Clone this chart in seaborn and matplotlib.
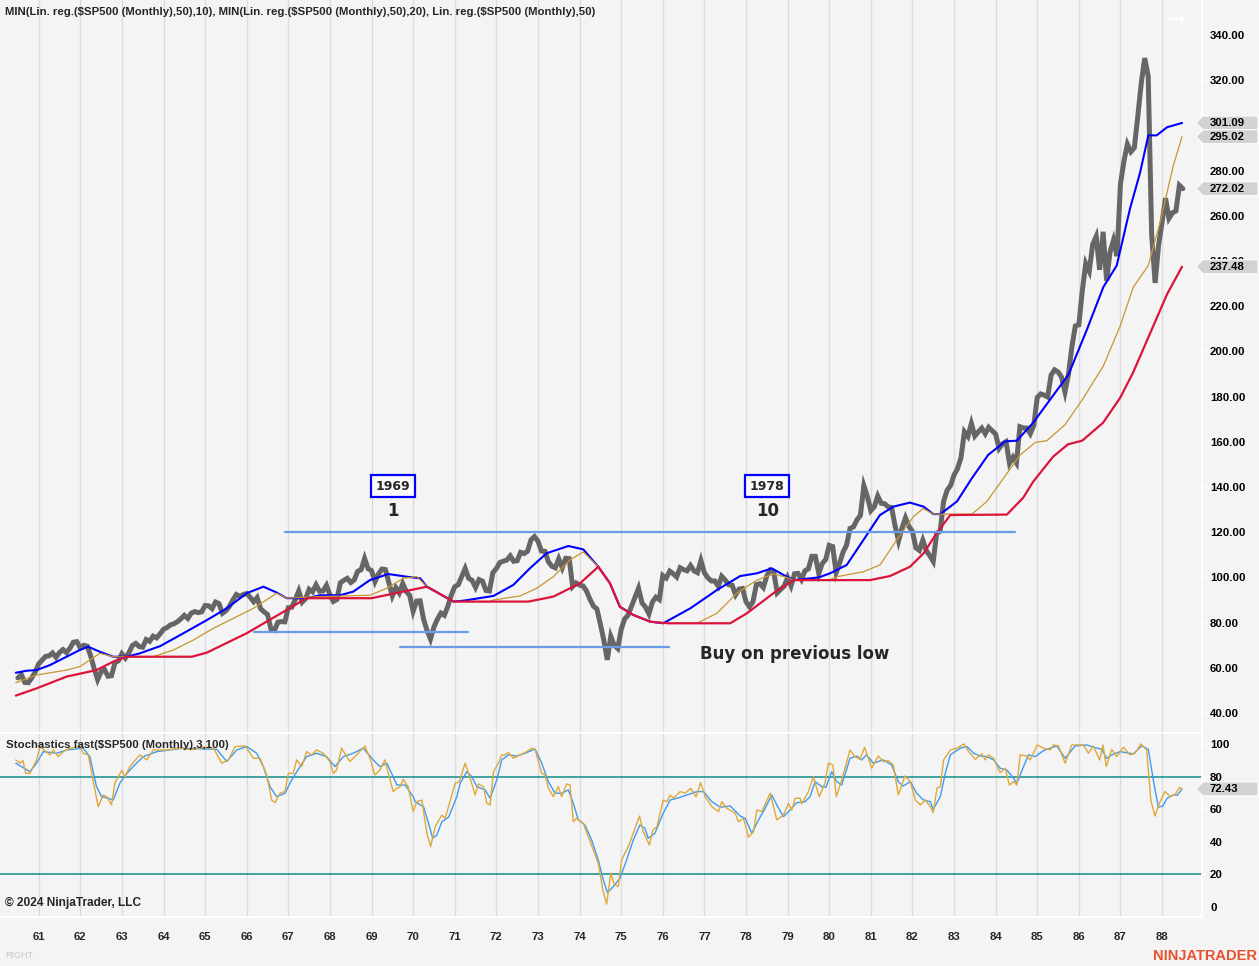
import numpy as np
import pandas as pd
import seaborn as sns
import matplotlib.pyplot as plt
from matplotlib.patches import Polygon
from matplotlib.transforms import blended_transform_factory

sns.set_theme(style="white")
plt.rcParams['font.family'] = ['Liberation Sans', 'DejaVu Sans']

BG = '#f4f4f4'

# ---------------- data ----------------
# S&P 500 monthly closes, Jul 1960 .. Jul 1988
sp500_close = [
    55.51, 56.96, 53.52, 53.39, 55.54, 58.11,
    61.78, 63.44, 65.06, 65.31, 66.56, 64.64, 66.76, 68.07, 66.73, 68.62, 71.32, 71.55,
    68.84, 69.96, 69.55, 65.24, 59.63, 54.75, 58.23, 59.12, 56.27, 56.52, 62.26, 63.10,
    66.20, 64.29, 66.57, 69.80, 70.80, 69.37, 69.13, 72.50, 71.70, 74.01, 73.23, 75.02,
    77.04, 77.80, 78.98, 79.46, 80.37, 81.69, 83.18, 81.83, 84.18, 84.86, 84.42, 84.75,
    87.56, 87.43, 86.16, 89.11, 88.42, 84.12, 85.25, 87.17, 89.96, 92.42, 91.61, 92.43,
    92.88, 91.22, 89.23, 91.06, 86.13, 84.74, 83.60, 77.10, 76.56, 80.20, 80.45, 80.33,
    86.61, 86.78, 90.20, 94.01, 89.08, 90.64, 94.75, 93.64, 96.71, 93.90, 94.00, 96.47,
    92.24, 89.36, 90.20, 97.59, 98.68, 99.58, 97.74, 98.86, 102.67, 103.41, 108.37, 103.86,
    103.01, 98.13, 101.51, 103.69, 103.46, 97.71, 91.83, 95.51, 93.12, 97.24, 93.81, 92.06,
    85.02, 89.50, 89.63, 81.52, 76.55, 72.72, 78.05, 81.52, 84.21, 83.25, 87.20, 92.15,
    95.88, 96.75, 100.31, 103.95, 99.63, 98.70, 95.58, 99.03, 98.34, 94.23, 93.99, 102.09,
    103.94, 106.57, 107.20, 107.67, 109.53, 107.14, 107.39, 111.09, 110.55, 111.58, 116.67, 118.05,
    116.03, 111.68, 111.52, 106.97, 104.95, 104.26, 108.22, 104.25, 108.43, 108.29, 95.96, 97.55,
    96.57, 96.22, 93.98, 90.31, 87.28, 86.00, 79.31, 72.15, 63.54, 73.90, 69.97, 68.56,
    76.98, 81.59, 83.36, 87.30, 91.15, 95.19, 88.75, 86.88, 83.87, 89.04, 91.24, 90.19,
    100.86, 99.71, 102.77, 101.64, 100.18, 104.28, 103.44, 102.91, 105.24, 102.90, 102.10, 107.46,
    102.03, 99.82, 98.42, 98.44, 96.12, 100.48, 98.85, 96.77, 96.53, 92.34, 94.83, 95.10,
    89.25, 87.04, 89.21, 96.83, 97.24, 95.53, 100.68, 103.29, 102.54, 93.15, 94.70, 96.11,
    99.93, 96.28, 101.59, 101.76, 99.08, 102.91, 103.81, 109.32, 109.32, 101.82, 106.16, 107.94,
    114.16, 113.66, 102.09, 106.29, 111.24, 114.24, 121.67, 122.38, 125.46, 127.47, 140.52, 135.76,
    129.55, 131.27, 136.00, 132.81, 132.59, 131.21, 130.92, 122.79, 116.18, 121.89, 126.35, 122.55,
    120.40, 113.11, 111.96, 116.44, 111.88, 109.61, 107.09, 119.51, 120.42, 133.71, 138.54, 140.64,
    145.30, 148.06, 152.96, 164.42, 162.39, 168.11, 162.56, 164.40, 166.07, 163.55, 166.40, 164.93,
    163.41, 157.06, 159.18, 160.05, 150.55, 153.18, 150.66, 166.68, 166.10, 166.09, 163.58, 167.24,
    179.63, 181.18, 180.66, 179.83, 189.55, 191.85, 190.92, 188.63, 182.08, 189.82, 202.17, 211.28,
    211.78, 226.92, 238.90, 235.52, 247.35, 250.84, 236.12, 252.93, 231.32, 243.98, 249.22, 242.17,
    274.08, 284.20, 291.70, 288.36, 290.10, 304.00, 318.66, 329.80, 321.83, 251.79, 230.30, 247.08,
    257.07, 267.82, 258.89, 261.33, 262.16, 273.50, 272.02,
]
first_month = '1960-07-01'
last_month = '1988-07-01'

# Lin. reg. / MIN lines (decimal year, value)
blue_t = [1960.45, 1960.71, 1960.95, 1961.27, 1961.67, 1961.99, 1962.19, 1962.47, 1962.79, 1963.12,
          1963.43, 1963.92, 1964.48, 1965.04, 1965.52, 1966.0, 1966.4, 1966.72, 1966.96, 1967.44,
          1967.76, 1968.24, 1968.56, 1968.96, 1969.4, 1969.85, 1970.17, 1970.33, 1970.97, 1971.21,
          1971.93, 1972.41, 1972.81, 1973.21, 1973.73, 1974.09, 1974.45, 1974.73, 1974.97, 1975.29,
          1975.7, 1976.01, 1976.66, 1977.3, 1977.86, 1978.26, 1978.62, 1978.9, 1979.14, 1979.5,
          1979.75, 1980.02, 1980.42, 1980.82, 1981.22, 1981.54, 1981.94, 1982.27, 1982.5, 1982.67,
          1983.07, 1983.43, 1983.82, 1984.23, 1984.51, 1984.9, 1985.31, 1985.75, 1986.19, 1986.59,
          1986.91, 1987.23, 1987.47, 1987.67, 1987.87, 1988.12, 1988.48]
blue_v = [57.8, 58.7, 59.0, 61.2, 64.9, 67.9, 69.3, 67.1, 64.9, 64.9,
          66.4, 69.6, 75.3, 81.1, 86.3, 93.0, 95.9, 93.3, 90.8, 90.8,
          92.1, 92.1, 93.7, 98.8, 101.5, 100.3, 99.6, 95.9, 89.3, 89.7,
          91.8, 96.7, 104.1, 110.7, 113.9, 112.4, 104.7, 97.4, 87.0, 83.4,
          80.4, 79.7, 86.3, 94.4, 100.6, 101.8, 104.0, 101.1, 98.8, 99.5,
          100.0, 101.8, 105.5, 116.5, 127.6, 131.3, 133.1, 131.3, 128.0, 128.0,
          133.6, 143.9, 154.2, 160.2, 160.5, 168.4, 178.7, 189.7, 209.5, 228.5,
          238.0, 263.2, 279.0, 295.6, 295.6, 299.2, 301.09]

orange_t = [1960.45, 1960.95, 1961.67, 1961.99, 1962.47, 1962.67, 1962.79, 1963.75, 1964.24, 1964.72,
            1965.2, 1965.68, 1966.16, 1966.72, 1966.96, 1967.76, 1968.96, 1969.37, 1969.76, 1970.09,
            1970.33, 1970.97, 1971.85, 1971.93, 1972.57, 1972.97, 1973.37, 1973.77, 1974.09, 1974.45,
            1974.73, 1974.97, 1975.29, 1975.7, 1976.13, 1976.82, 1977.3, 1977.78, 1978.26, 1978.66,
            1978.98, 1979.14, 1980.0, 1980.18, 1980.82, 1981.22, 1981.62, 1982.02, 1982.26, 1982.5,
            1983.43, 1983.79, 1984.19, 1984.59, 1984.95, 1985.23, 1985.67, 1986.11, 1986.59, 1986.99,
            1987.31, 1987.67, 1987.95, 1988.27, 1988.48]
orange_v = [53.4, 56.8, 59.0, 60.5, 66.4, 65.5, 64.9, 64.9, 67.9, 72.3,
            77.5, 81.9, 86.3, 93.0, 90.8, 91.5, 92.1, 95.2, 99.6, 100.3,
            95.9, 89.3, 89.3, 90.0, 91.8, 95.2, 100.3, 107.7, 111.3, 104.7,
            97.4, 87.0, 83.4, 80.4, 79.7, 79.7, 84.1, 93.0, 98.8, 101.5,
            100.0, 98.8, 98.8, 100.3, 102.5, 105.5, 116.5, 126.8, 130.5, 128.0,
            128.0, 133.6, 143.9, 154.2, 159.7, 160.5, 167.6, 179.4, 193.6, 211.1,
            228.5, 238.0, 256.9, 282.2, 295.02]

red_t = [1960.45, 1960.95, 1961.67, 1962.39, 1962.79, 1963.12, 1964.68, 1965.04, 1966.0, 1966.96,
         1967.44, 1969.0, 1970.33, 1970.97, 1972.77, 1973.37, 1974.01, 1974.45, 1974.73, 1974.97,
         1975.29, 1975.7, 1976.13, 1977.62, 1978.02, 1978.66, 1979.14, 1980.98, 1981.46, 1981.94,
         1982.27, 1982.58, 1982.91, 1984.27, 1984.66, 1984.9, 1985.38, 1985.74, 1986.08, 1986.58,
         1986.99, 1987.3, 1987.71, 1988.12, 1988.48]
red_v = [47.7, 50.9, 56.1, 59.0, 62.7, 64.9, 64.9, 66.7, 75.3, 85.6,
         90.8, 90.8, 95.9, 89.3, 89.3, 91.5, 97.4, 104.7, 97.4, 87.0,
         83.4, 80.4, 79.7, 79.7, 84.1, 93.0, 98.8, 98.8, 100.6, 104.7,
         110.7, 119.5, 127.6, 127.8, 135.2, 142.3, 153.4, 158.9, 160.5, 168.4,
         179.4, 190.5, 207.9, 225.3, 237.48]

# Stochastics fast: %K (orange) and %D (blue)
k_t = [1960.45, 1960.55, 1960.62, 1960.69, 1960.79, 1960.95, 1961.03, 1961.27, 1961.35, 1961.47,
       1961.59, 1961.75, 1961.99, 1962.07, 1962.19, 1962.43, 1962.55, 1962.63, 1962.75, 1962.83,
       1963.0, 1963.07, 1963.19, 1963.43, 1963.6, 1963.75, 1964.08, 1964.4, 1964.7, 1964.95,
       1965.2, 1965.4, 1965.56, 1965.72, 1965.96, 1966.16, 1966.32, 1966.48, 1966.6, 1966.68,
       1966.8, 1966.92, 1967.0, 1967.12, 1967.2, 1967.32, 1967.44, 1967.56, 1967.68, 1967.84,
       1968.0, 1968.08, 1968.16, 1968.28, 1968.48, 1968.68, 1968.84, 1968.96, 1969.08, 1969.2,
       1969.32, 1969.52, 1969.61, 1969.69, 1969.76, 1969.88, 1970.0, 1970.09, 1970.21, 1970.33,
       1970.42, 1970.53, 1970.69, 1970.77, 1971.01, 1971.11, 1971.25, 1971.37, 1971.49, 1971.57,
       1971.69, 1971.77, 1971.85, 1971.93, 1972.05, 1972.13, 1972.21, 1972.29, 1972.41, 1972.57,
       1972.69, 1972.85, 1972.93, 1973.09, 1973.17, 1973.25, 1973.37, 1973.49, 1973.57, 1973.69,
       1973.77, 1973.85, 1973.93, 1974.09, 1974.21, 1974.33, 1974.45, 1974.56, 1974.65, 1974.75,
       1974.83, 1974.93, 1975.01, 1975.17, 1975.29, 1975.44, 1975.53, 1975.68, 1975.76, 1975.86,
       1976.01, 1976.1, 1976.18, 1976.25, 1976.42, 1976.54, 1976.67, 1976.8, 1976.91, 1977.02,
       1977.18, 1977.34, 1977.42, 1977.54, 1977.74, 1977.82, 1977.94, 1978.06, 1978.18, 1978.26,
       1978.38, 1978.58, 1978.74, 1978.9, 1979.02, 1979.1, 1979.18, 1979.3, 1979.34, 1979.5,
       1979.62, 1979.76, 1979.9, 1979.98, 1980.09, 1980.17, 1980.3, 1980.5, 1980.62, 1980.74,
       1980.85, 1981.02, 1981.18, 1981.3, 1981.42, 1981.54, 1981.66, 1981.82, 1981.95, 1982.07,
       1982.19, 1982.31, 1982.43, 1982.5, 1982.59, 1982.67, 1982.75, 1982.91, 1983.07, 1983.24,
       1983.35, 1983.51, 1983.67, 1983.75, 1983.83, 1983.95, 1984.11, 1984.23, 1984.33, 1984.43,
       1984.51, 1984.59, 1984.75, 1984.83, 1985.0, 1985.15, 1985.31, 1985.39, 1985.51, 1985.67,
       1985.83, 1986.11, 1986.23, 1986.35, 1986.5, 1986.58, 1986.66, 1986.79, 1986.91, 1987.07,
       1987.23, 1987.35, 1987.49, 1987.63, 1987.73, 1987.83, 1987.94, 1988.07, 1988.2, 1988.32,
       1988.42, 1988.48]
k_v = [90.2, 88.2, 89.8, 82.0, 82.0, 90.2, 98.4, 93.3, 96.3, 92.2,
       95.3, 97.4, 98.4, 94.3, 93.3, 61.5, 68.7, 67.7, 62.6, 75.9,
       84.0, 79.9, 86.1, 93.3, 90.2, 96.3, 96.3, 97.5, 96.5, 98.0,
       97.4, 88.2, 90.2, 98.4, 98.8, 91.2, 91.2, 81.0, 65.6, 64.0,
       69.8, 70.8, 82.0, 82.0, 90.2, 86.1, 95.3, 93.3, 96.3, 94.3,
       89.2, 82.0, 84.0, 97.4, 89.2, 94.3, 98.8, 91.2, 81.0, 84.0,
       90.2, 70.8, 72.8, 73.8, 78.3, 73.8, 58.5, 64.6, 65.6, 45.2,
       37.0, 49.3, 56.4, 54.4, 75.9, 76.9, 88.2, 79.0, 68.7, 75.5,
       73.8, 63.6, 62.6, 83.0, 88.2, 93.3, 93.3, 94.7, 91.2, 93.3,
       94.7, 97.4, 96.7, 82.0, 81.0, 72.8, 67.7, 73.8, 67.7, 75.5,
       74.8, 52.3, 54.4, 51.3, 43.1, 35.0, 26.8, 10.4, 1.8, 20.7,
       14.1, 12.5, 28.8, 37.0, 45.2, 55.8, 46.2, 38.0, 47.2, 49.3,
       65.6, 64.6, 68.7, 66.7, 70.8, 69.8, 72.8, 67.7, 76.3, 67.7,
       61.5, 58.5, 64.6, 60.6, 57.5, 52.3, 54.4, 42.8, 46.2, 59.5,
       58.5, 69.8, 53.4, 56.4, 63.6, 59.5, 66.7, 66.7, 63.2, 70.8,
       79.9, 67.7, 76.0, 88.2, 87.1, 67.7, 77.9, 96.3, 92.2, 90.6,
       98.0, 85.1, 92.6, 89.2, 89.8, 87.1, 68.7, 80.4, 76.9, 65.6,
       62.6, 65.6, 61.5, 57.9, 72.8, 73.8, 90.2, 96.3, 97.4, 100.0,
       95.3, 90.6, 93.9, 90.2, 93.3, 91.2, 82.4, 85.1, 74.8, 76.9,
       74.8, 93.3, 92.6, 90.2, 99.4, 97.4, 96.3, 99.4, 98.8, 88.2,
       99.4, 99.4, 94.3, 98.8, 90.2, 99.4, 86.1, 96.7, 92.2, 98.0,
       93.3, 94.3, 100.0, 96.3, 65.6, 55.8, 64.0, 70.8, 67.7, 69.3,
       73.4, 72.2]

d_t = [1960.45, 1960.79, 1960.95, 1961.11, 1961.43, 1961.67, 1962.07, 1962.23, 1962.39, 1962.51,
       1962.67, 1962.79, 1962.95, 1963.12, 1963.27, 1963.51, 1963.84, 1964.48, 1965.28, 1965.52,
       1965.76, 1966.0, 1966.24, 1966.4, 1966.56, 1966.72, 1966.92, 1967.08, 1967.28, 1967.44,
       1967.68, 1967.92, 1968.12, 1968.32, 1968.56, 1968.8, 1969.04, 1969.2, 1969.37, 1969.61,
       1969.81, 1970.0, 1970.05, 1970.25, 1970.37, 1970.47, 1970.57, 1970.69, 1970.85, 1971.05,
       1971.13, 1971.29, 1971.41, 1971.53, 1971.73, 1971.85, 1972.01, 1972.13, 1972.29, 1972.49,
       1972.69, 1972.93, 1973.09, 1973.25, 1973.41, 1973.57, 1973.73, 1973.85, 1973.97, 1974.13,
       1974.29, 1974.45, 1974.57, 1974.67, 1974.81, 1974.97, 1975.13, 1975.29, 1975.45, 1975.57,
       1975.65, 1975.81, 1976.01, 1976.18, 1976.34, 1976.58, 1976.82, 1976.98, 1977.18, 1977.38,
       1977.62, 1977.86, 1977.98, 1978.14, 1978.3, 1978.46, 1978.62, 1978.74, 1978.9, 1979.06,
       1979.22, 1979.42, 1979.54, 1979.66, 1979.82, 1979.92, 1980.06, 1980.18, 1980.3, 1980.5,
       1980.66, 1980.78, 1980.9, 1981.06, 1981.3, 1981.5, 1981.66, 1981.78, 1981.95, 1982.1,
       1982.27, 1982.43, 1982.5, 1982.67, 1982.79, 1982.91, 1983.15, 1983.31, 1983.47, 1983.63,
       1983.79, 1983.95, 1984.11, 1984.27, 1984.43, 1984.51, 1984.67, 1984.79, 1984.95, 1985.15,
       1985.31, 1985.47, 1985.67, 1985.91, 1986.19, 1986.35, 1986.55, 1986.67, 1986.79, 1986.99,
       1987.31, 1987.51, 1987.67, 1987.79, 1987.91, 1988.02, 1988.12, 1988.27, 1988.37, 1988.48]
d_v = [88.2, 83.0, 88.2, 95.3, 94.3, 96.3, 97.4, 92.2, 73.8, 67.7,
       66.7, 65.6, 75.9, 82.0, 86.1, 92.2, 95.3, 97.4, 96.7, 89.2,
       96.3, 98.4, 94.3, 86.1, 73.8, 67.7, 69.8, 77.9, 86.1, 92.2,
       94.3, 92.2, 86.1, 92.2, 94.3, 97.4, 90.2, 86.1, 88.2, 74.8,
       74.8, 67.7, 64.6, 61.5, 51.3, 42.2, 44.2, 52.3, 55.0, 67.7,
       75.9, 83.0, 79.9, 73.8, 71.8, 66.7, 77.9, 90.2, 93.3, 92.6,
       94.3, 96.9, 88.2, 76.9, 69.8, 69.8, 71.8, 63.6, 53.4, 50.3,
       41.1, 28.8, 16.6, 8.8, 12.5, 17.6, 28.8, 41.1, 50.3, 48.3,
       42.2, 45.2, 57.5, 65.6, 66.7, 68.7, 70.8, 70.8, 64.6, 61.2,
       62.0, 55.8, 54.4, 45.2, 53.4, 60.6, 68.7, 62.6, 55.4, 59.5,
       64.0, 64.6, 67.7, 76.9, 73.8, 73.4, 83.0, 76.9, 74.8, 91.2,
       92.6, 90.2, 93.3, 88.2, 90.2, 87.1, 76.9, 74.2, 76.9, 69.8,
       65.6, 64.6, 59.9, 67.7, 82.0, 93.3, 97.4, 98.4, 94.3, 92.6,
       92.2, 90.2, 85.1, 84.0, 79.0, 75.9, 86.1, 93.3, 92.2, 95.9,
       97.4, 98.8, 91.2, 98.8, 99.4, 98.0, 96.7, 91.2, 93.3, 95.3,
       93.9, 98.8, 96.7, 77.9, 61.2, 62.0, 66.7, 68.7, 68.7, 72.43]

# hand-drawn support / resistance lines (start, end, level)
hlines = [(1966.93, 1984.47, 120.0), (1966.18, 1971.33, 75.8), (1969.69, 1976.16, 69.3)]

tick_years = list(range(1961, 1989))
year_labels = [f"{y % 100:02d}" for y in tick_years]
price_ticks = [40, 60, 80, 100, 120, 140, 160, 180, 200, 220, 240, 260, 280, 300, 320, 340]
stoch_ticks = [0, 20, 40, 60, 80, 100]

months = pd.date_range(first_month, last_month, freq='MS')
df_price = pd.DataFrame({'t': months.year + (months.month - 1) / 12, 'close': sp500_close})

# ---------------- figure ----------------
W, H = 1259, 966
fig = plt.figure(figsize=(W / 100, H / 100), dpi=100, facecolor=BG)
ax = fig.add_axes([0, 1 - 733 / H, 1202 / W, 733 / H])
ax2 = fig.add_axes([0, 1 - 917 / H, 1202 / W, 183 / H])

for a in (ax, ax2):
    a.set_facecolor(BG)
    a.set_xlim(1960.07, 1988.96)
    a.set_xticks(tick_years)
    a.grid(axis='x', color='#dcdcdc', lw=1.0)
    a.grid(axis='y', visible=False)
    a.set_axisbelow(True)
    a.yaxis.tick_right()
    for s in ('top', 'left'):
        a.spines[s].set_visible(False)
    a.spines['right'].set_color('white')
    a.spines['bottom'].set_color('white')
    a.spines['right'].set_linewidth(1.2)
    a.spines['bottom'].set_linewidth(1.5)
    a.tick_params(axis='y', direction='out', length=3, width=1, color='white',
                  labelsize=8.2, pad=2.8, labelcolor='black')
    for lab in a.get_yticklabels():
        lab.set_fontweight('bold')

# price panel
ax.set_ylim(31.15, 355.5)
sns.lineplot(data=df_price, x='t', y='close', ax=ax, color='#666666', lw=3.6,
             estimator=None, sort=False, zorder=2, solid_joinstyle='miter')
sns.lineplot(x=blue_t, y=blue_v, ax=ax, color='#0000ff', lw=1.5, estimator=None, sort=False, zorder=3)
sns.lineplot(x=orange_t, y=orange_v, ax=ax, color='#c9962e', lw=0.9, estimator=None, sort=False, zorder=4)
sns.lineplot(x=red_t, y=red_v, ax=ax, color='#dc143c', lw=1.6, estimator=None, sort=False, zorder=5)
for x0, x1, lvl in hlines:
    ax.plot([x0, x1], [lvl, lvl], color='#6a9be8', lw=1.6, zorder=6)

ax.set_yticks(price_ticks)
ax.set_yticklabels([f"{v:.2f}" for v in price_ticks], fontweight='bold')
ax.tick_params(axis='x', length=0, labelbottom=False)
ax.set_xlabel('')
ax.set_ylabel('')

# annotations
box = dict(boxstyle='square,pad=0.35', fc='#fbfbfb', ec='#0000ff', lw=1.6)
ax.text(1969.52, 140.4, '1969', ha='center', va='center', fontsize=9, fontweight='bold',
        family='DejaVu Sans', bbox=box, zorder=7)
ax.text(1969.52, 129.4, '1', ha='center', va='center', fontsize=12, fontweight='bold',
        family='DejaVu Sans', zorder=7)
ax.text(1978.51, 140.4, '1978', ha='center', va='center', fontsize=9, fontweight='bold',
        family='DejaVu Sans', bbox=box, zorder=7)
ax.text(1978.51, 129.4, '10', ha='center', va='center', fontsize=12, fontweight='bold',
        family='DejaVu Sans', zorder=7)
ax.text(1976.9, 66.1, 'Buy on previous low', ha='left', va='center', fontsize=12,
        fontweight='bold', family='DejaVu Sans', zorder=7)

# stochastics panel
ax2.set_ylim(-6.1, 106.1)
ax2.axhline(80, color='#0f8c88', lw=1.1, zorder=2)
ax2.axhline(20, color='#0f8c88', lw=1.1, zorder=2)
sns.lineplot(x=d_t, y=d_v, ax=ax2, color='#3d9bf0', lw=1.0, estimator=None, sort=False, zorder=3)
sns.lineplot(x=k_t, y=k_v, ax=ax2, color='#e0a83a', lw=1.0, estimator=None, sort=False, zorder=4)
ax2.set_yticks(stoch_ticks)
ax2.set_yticklabels([str(v) for v in stoch_ticks], fontweight='bold')
ax2.set_xticklabels(year_labels, fontweight='bold')
ax2.tick_params(axis='x', direction='out', length=3, color='white', labelsize=8.2, pad=8)
ax2.set_xlabel('')
ax2.set_ylabel('')


def add_tag(a, value, label):
    """Grey price tag with a pointed left edge on the right axis."""
    w = a.bbox.width
    y0, y1 = a.get_ylim()
    half = (y1 - y0) / a.bbox.height * 7
    tr = blended_transform_factory(a.transAxes, a.transData)
    xt, xl, xr = 1 - 6 / w, 1 + 1 / w, 1 + 56 / w
    poly = Polygon([(xt, value), (xl, value + half), (xr, value + half),
                    (xr, value - half), (xl, value - half)], closed=True,
                   fc='#d2d2d2', ec='white', lw=0.8, transform=tr, clip_on=False, zorder=10)
    a.add_patch(poly)
    a.text(1 + 8 / w, value, label, transform=tr, ha='left', va='center', fontsize=8.2,
           fontweight='bold', color='black', clip_on=False, zorder=11)


add_tag(ax, 301.09, '301.09')
add_tag(ax, 295.02, '295.02')
add_tag(ax, 272.02, '272.02')
add_tag(ax, 237.48, '237.48')
add_tag(ax2, 72.43, '72.43')

# header / footer texts
fig.text(5 / W, 1 - 12 / H, 'MIN(Lin. reg.($SP500 (Monthly),50),10), MIN(Lin. reg.($SP500 (Monthly),50),20), '
         'Lin. reg.($SP500 (Monthly),50)', ha='left', va='center', fontsize=8.2, fontweight='bold')
fig.text(6 / W, 1 - 745 / H, 'Stochastics fast($SP500 (Monthly),3,100)', ha='left', va='center',
         fontsize=8.2, fontweight='bold')
fig.text(5 / W, 1 - 903 / H, '\u00a9 2024 NinjaTrader, LLC', ha='left', va='center', fontsize=8.6,
         fontweight='bold')
fig.text(1177 / W, 1 - 20 / H, '\u2192', ha='center', va='center', fontsize=15, color='white',
         family='DejaVu Sans')
fig.text(5 / W, 1 - 956 / H, 'RIGHT', ha='left', va='center', fontsize=6.5, color='#c8c8c8')
fig.text(1257 / W, 1 - 956 / H, 'NINJATRADER', ha='right', va='center', fontsize=10.5,
         fontweight='bold', color='#e8502e')

plt.savefig('out.png', dpi=100, facecolor=BG)
plt.close()
